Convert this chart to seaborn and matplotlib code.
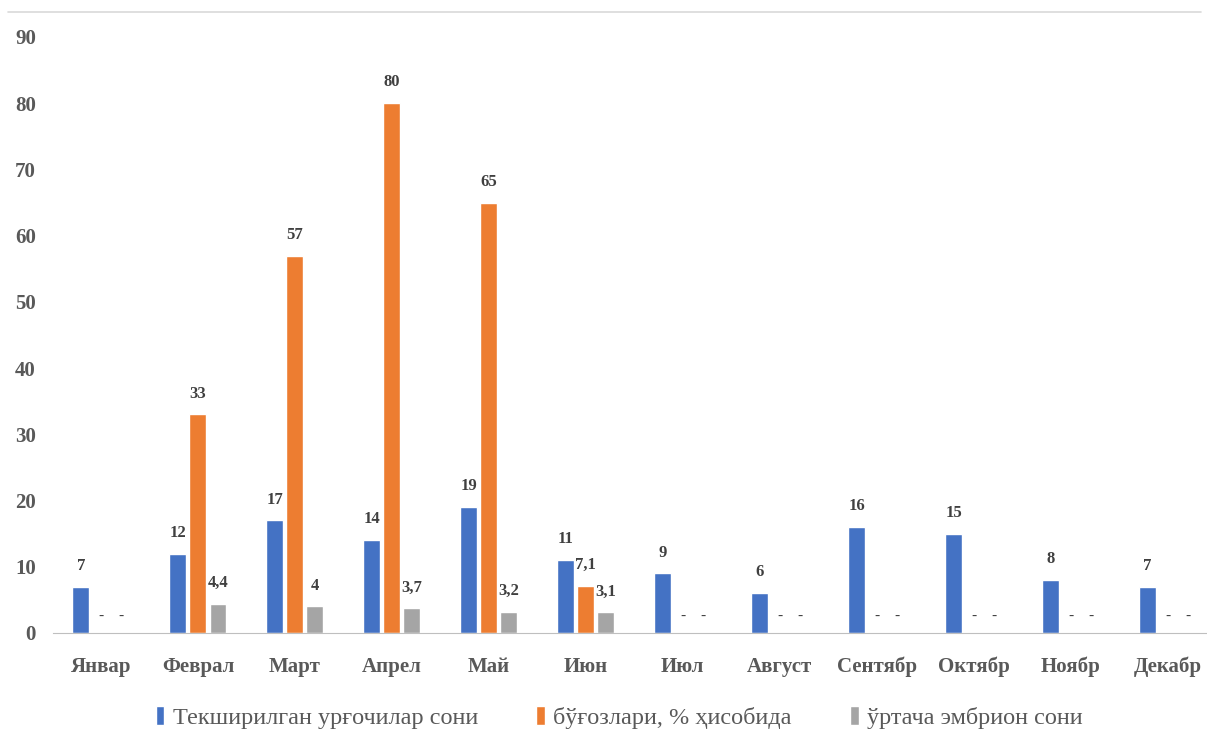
import pandas as pd
import numpy as np
import matplotlib
matplotlib.use("Agg")
import matplotlib.pyplot as plt
import seaborn as sns

# ------------------------------
# Data
# ------------------------------
months = ["Январ", "Феврал", "Март", "Апрел", "Май", "Июн",
          "Июл", "Август", "Сентябр", "Октябр", "Ноябр", "Декабр"]
series_names = ["Текширилган урғочилар сони", "бўғозлари, % ҳисобида", "ўртача эмбрион сони"]
examined = [7, 12, 17, 14, 19, 11, 9, 6, 16, 15, 8, 7]
pregnant_pct = [np.nan, 33, 57, 80, 65, 7.1, np.nan, np.nan, np.nan, np.nan, np.nan, np.nan]
embryos = [np.nan, 4.4, 4, 3.7, 3.2, 3.1, np.nan, np.nan, np.nan, np.nan, np.nan, np.nan]
colors = ["#4472C4", "#ED7D31", "#A5A5A5"]

df = pd.DataFrame({
    "month": months * 3,
    "series": [series_names[0]] * 12 + [series_names[1]] * 12 + [series_names[2]] * 12,
    "value": examined + pregnant_pct + embryos,
})

# ------------------------------
# Style
# ------------------------------
sns.set_style("white")
plt.rcParams["font.family"] = ["Liberation Serif", "DejaVu Serif"]

fig = plt.figure(figsize=(12.07, 7.38), dpi=100)
ax = fig.add_axes([0.0435, 0.1423, 0.964, 0.8076])

group_w = 0.62
sns.barplot(data=df, x="month", y="value", hue="series", order=months,
            hue_order=series_names, palette=colors, width=group_w, dodge=True,
            saturation=1, ax=ax, legend=True)

# thin the bars a little to leave small gaps between them
bar_w = 0.175
for cont in ax.containers:
    for p in cont.patches:
        cx = p.get_x() + p.get_width() / 2
        p.set_width(bar_w)
        p.set_x(cx - bar_w / 2)

# value labels (a dash where the value is missing)
all_values = [examined, pregnant_pct, embryos]
step = group_w / len(series_names)
for k, vals in enumerate(all_values):
    offset = -group_w / 2 + step * (k + 0.5)
    for i, v in enumerate(vals):
        cx = i + offset
        if np.isnan(v):
            ax.annotate("-", (cx, 0), xytext=(0, 12), textcoords="offset points",
                        ha="center", va="center", fontsize=11, color="#404040")
        else:
            txt = f"{v:g}".replace(".", ",")
            ax.annotate(txt, (cx, v), xytext=(0, 15), textcoords="offset points",
                        ha="center", va="center", fontsize=12, fontweight="bold",
                        color="#404040")

ax.set_xlim(-0.5, 11.5)
ax.set_ylim(0, 90)
ax.set_yticks(range(0, 91, 10))
ax.set_xlabel("")
ax.set_ylabel("")
ax.tick_params(axis="both", length=0, labelsize=15, labelcolor="#595959")
for lab in ax.get_xticklabels() + ax.get_yticklabels():
    lab.set_fontweight("bold")
ax.tick_params(axis="x", pad=17)
ax.tick_params(axis="y", pad=12)
for s in ["top", "right", "left"]:
    ax.spines[s].set_visible(False)
ax.spines["bottom"].set_color("#BFBFBF")

# legend
ax.legend(loc="center", bbox_to_anchor=(0.487, -0.142), bbox_transform=ax.transAxes,
          ncol=3, frameon=False, fontsize=17.5, handlelength=0.35, handleheight=0.8,
          handletextpad=0.35, columnspacing=2.4, labelcolor="#595959")

# border line on top of chart area
fig.add_artist(plt.Line2D([0.007, 0.995], [0.984, 0.984], color="#D9D9D9", lw=1.2))

plt.savefig("out.png", dpi=100)
